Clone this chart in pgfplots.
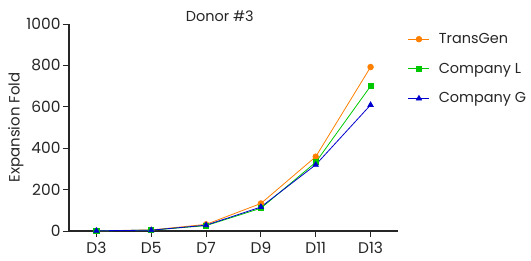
\documentclass[border=0pt]{standalone}
\usepackage{pgfplots}
\pgfplotsset{compat=1.18}
\usepackage{fontspec}
\setmainfont{Poppins}
\definecolor{cOrange}{RGB}{255,128,0}
\definecolor{cGreen}{RGB}{0,200,0}
\definecolor{cBlue}{RGB}{0,0,205}
\begin{document}
\begin{tikzpicture}
\useasboundingbox (0,0) rectangle (531bp,261bp);
\begin{axis}[
  at={(69bp,30bp)}, anchor=south west,
  scale only axis, width=329bp, height=207bp,
  xmin=-0.5, xmax=5.5, ymin=0, ymax=1000,
  axis lines=left, axis line style={-, line width=1.1pt, black!85},
  xtick={0,1,2,3,4,5}, xticklabels={D3,D5,D7,D9,D11,D13},
  ytick={0,200,400,600,800,1000},
  tick style={line width=0.9pt, black!85},
  major tick length=6bp,
  tick align=outside,
  /pgf/number format/assume math mode=true,
  /pgf/number format/1000 sep={},
  ticklabel style={font=\fontsize{15.5}{18}\selectfont, text=black!85},
  xticklabel style={yshift=-2bp},
  yticklabel style={xshift=1bp},
  ylabel={Expansion Fold},
  ylabel style={font=\fontsize{15}{18}\selectfont, text=black!85, at={(ticklabel* cs:0.5)}, anchor=south, yshift=42bp},
  clip=false,
  legend style={draw=none, fill=none, at={(1.03,0.975)}, anchor=north west, font=\fontsize{14.5}{17}\selectfont, text=black!85, row sep=14bp, inner xsep=0pt, nodes={inner xsep=9bp}},
  legend cell align=left,
  legend image code/.code={\draw[mark repeat=2,mark phase=2] plot coordinates {(0cm,0cm)(0.37cm,0cm)(0.74cm,0cm)};},
]
\addplot[cOrange, line width=0.8pt, mark=*, mark size=2.8bp, mark options={solid}] coordinates {(0,1)(1,5)(2,32)(3,133)(4,359)(5,792)};
\addlegendentry{TransGen}
\addplot[cGreen, line width=0.8pt, mark=square*, mark size=2.6bp] coordinates {(0,1)(1,4)(2,26)(3,110)(4,332)(5,700)};
\addlegendentry{Company L}
\addplot[cBlue, line width=0.8pt, mark=triangle*, mark size=3bp] coordinates {(0,1)(1,4)(2,28)(3,116)(4,320)(5,609)};
\addlegendentry{Company G}
\node[font=\fontsize{14.5}{17}\selectfont, text=black!85] at (axis cs:2.25,1000) [anchor=base, yshift=2bp] {Donor \#3};
\end{axis}
\end{tikzpicture}
\end{document}
